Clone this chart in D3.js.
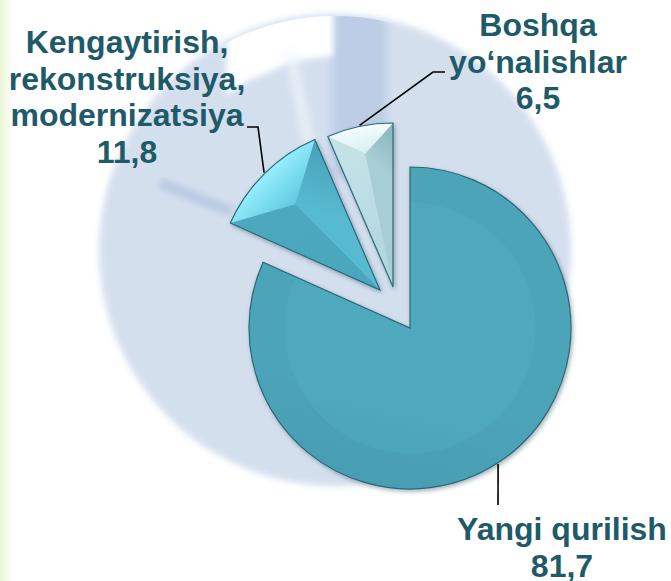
<!DOCTYPE html>
<html>
<head>
<meta charset="utf-8">
<script src="https://cdn.jsdelivr.net/npm/d3@7"></script>
<style>
  body { margin: 0; background: #fff; }
  svg { display: block; }
</style>
</head>
<body>
<svg id="chart" width="671" height="581"></svg>
<script>
// data
const categories = ["Yangi qurilish", "Kengaytirish, rekonstruksiya, modernizatsiya", "Boshqa yo‘nalishlar"];
const labelLines = [["Yangi qurilish"], ["Kengaytirish,", "rekonstruksiya,", "modernizatsiya"], ["Boshqa", "yo‘nalishlar"]];
const shares = [81.7, 11.8, 6.5];

const svg = d3.select("#chart");
const W = 671, H = 581;
const cx = 410, cy = 328;
const rBig = 161, rSmall = 164;

const fmt = d3.formatLocale({decimal: ",", thousands: " ", grouping: [3], currency: ["", ""]}).format(".1f");

const defs = svg.append("defs");

// left green strip
const gStrip = defs.append("linearGradient").attr("id", "strip");
gStrip.append("stop").attr("offset", 0).attr("stop-color", "#e9f5d4");
gStrip.append("stop").attr("offset", 1).attr("stop-color", "#ffffff");
svg.append("rect").attr("x", 0).attr("y", 0).attr("width", 14).attr("height", H).attr("fill", "url(#strip)");

// blurred decorative circle behind the pie
defs.append("filter").attr("id", "blur3").attr("x", "-20%").attr("y", "-20%").attr("width", "140%").attr("height", "140%")
  .append("feGaussianBlur").attr("stdDeviation", 3);
defs.append("filter").attr("id", "blur5").attr("x", "-50%").attr("y", "-50%").attr("width", "200%").attr("height", "200%")
  .append("feGaussianBlur").attr("stdDeviation", 5);
defs.append("clipPath").attr("id", "bgclip")
  .append("circle").attr("cx", 335).attr("cy", 250).attr("r", 234);

svg.append("circle").attr("cx", 335).attr("cy", 250).attr("r", 236)
  .attr("fill", "#d4dfee").attr("filter", "url(#blur3)");

const ghost = svg.append("g").attr("clip-path", "url(#bgclip)");
ghost.append("rect").attr("x", 332).attr("y", 8).attr("width", 54).attr("height", 170)
  .attr("fill", "#bccde5").attr("filter", "url(#blur5)");
ghost.append("path").attr("d", "M230,-10L333,-10L333,56L294,61L250,80L225,95Z")
  .attr("fill", "#ffffff").attr("filter", "url(#blur3)");
ghost.append("line").attr("x1", 290).attr("y1", 50).attr("x2", 316).attr("y2", 180)
  .attr("stroke", "#f2f6fb").attr("stroke-width", 9).attr("opacity", 0.85).attr("filter", "url(#blur5)");
ghost.append("line").attr("x1", 160).attr("y1", 183).attr("x2", 232).attr("y2", 212)
  .attr("stroke", "#b8c9e2").attr("stroke-width", 10).attr("filter", "url(#blur3)");

// pie
const pie = d3.pie().sort(null).startAngle(0).endAngle(2 * Math.PI);
const arcs = pie(shares);

// exploded slice offsets (layout)
const offsets = [[0, 0], [-30, -38], [-17, -41]];

defs.append("filter").attr("id", "shadow").attr("x", "-20%").attr("y", "-20%").attr("width", "140%").attr("height", "140%")
  .append("feDropShadow").attr("dx", 1.5).attr("dy", 2).attr("stdDeviation", 2)
  .attr("flood-color", "#1d4250").attr("flood-opacity", 0.4);

function lin(id, x1, y1, x2, y2, stops) {
  const g = defs.append("linearGradient").attr("id", id).attr("gradientUnits", "userSpaceOnUse")
    .attr("x1", x1).attr("y1", y1).attr("x2", x2).attr("y2", y2);
  stops.forEach(([o, c]) => g.append("stop").attr("offset", o).attr("stop-color", c));
}

const pt = (c, rad, a) => [c[0] + rad * Math.sin(a), c[1] - rad * Math.cos(a)];

// big slice
const big = arcs[0];
lin("bigFill", cx + 40, cy - rBig, cx - 30, cy + rBig, [[0, "#50a9be"], [0.5, "#489db2"], [1, "#3a8599"]]);
const bigG = svg.append("g").attr("transform", `translate(${cx},${cy})`).attr("filter", "url(#shadow)");
bigG.append("path")
  .attr("d", d3.arc().innerRadius(0).outerRadius(rBig)(big))
  .attr("fill", "url(#bigFill)").attr("stroke", "#2c6676").attr("stroke-width", 1.2);
svg.append("path").attr("transform", `translate(${cx},${cy})`)
  .attr("d", d3.arc().innerRadius(rBig * 0.78).outerRadius(rBig - 1)(big))
  .attr("fill", "#1c5566").attr("opacity", 0.06);

// small bevelled slices
const facetColors = [
  null,
  {outer: ["#96efff", "#62c9df"], start: ["#4ba8bf", "#4aa6bd"], end: ["#58bad0", "#46a0b8"], stroke: "#2b6a7a"},
  {outer: ["#f6fcfd", "#d6eef2"], start: ["#c3e2e8", "#aed4dc"], end: ["#a9cdd5", "#86b3bd"], stroke: "#2d6b79"}
];

arcs.forEach((d, i) => {
  if (i === 0) return;
  const c = [cx + offsets[i][0], cy + offsets[i][1]];
  const a0 = d.startAngle, a1 = d.endAngle;
  const half = (a1 - a0) / 2, mid = (a0 + a1) / 2;
  const dist = rSmall / (1 + Math.sin(half));
  const inner = pt(c, dist, mid);
  const so = pt(c, rSmall, a0), eo = pt(c, rSmall, a1);
  const am = pt(c, rSmall, mid);
  const col = facetColors[i];

  lin(`outer${i}`, am[0], am[1], inner[0], inner[1], [[0, col.outer[0]], [1, col.outer[1]]]);
  lin(`start${i}`, inner[0], inner[1], c[0], c[1], [[0, col.start[0]], [1, col.start[1]]]);
  lin(`end${i}`, inner[0], inner[1], eo[0], eo[1], [[0, col.end[0]], [1, col.end[1]]]);

  const g = svg.append("g").attr("filter", "url(#shadow)");
  g.append("path")
    .attr("d", d3.arc().innerRadius(0).outerRadius(rSmall)(d))
    .attr("transform", `translate(${c[0]},${c[1]})`)
    .attr("fill", col.start[1]);
  g.append("path").attr("d", `M${c}L${so}L${inner}Z`).attr("fill", `url(#start${i})`);
  g.append("path").attr("d", `M${c}L${eo}L${inner}Z`).attr("fill", `url(#end${i})`);
  g.append("path").attr("d", `M${inner}L${so}A${rSmall},${rSmall} 0 0 1 ${eo}Z`).attr("fill", `url(#outer${i})`);
  g.append("path")
    .attr("d", d3.arc().innerRadius(0).outerRadius(rSmall)(d))
    .attr("transform", `translate(${c[0]},${c[1]})`)
    .attr("fill", "none").attr("stroke", col.stroke).attr("stroke-width", 1.2);
});

// labels with leader lines (layout: label centre, first baseline, elbow)
const labelLayout = [
  {x: 562, y: 540, elbow: [[498, 505]]},
  {x: 127, y: 53, elbow: [[258, 127], [247, 127]]},
  {x: 538, y: 36, elbow: [[433, 72], [445, 72]]}
];
const lineH = 36.5;

arcs.forEach((d, i) => {
  const c = [cx + offsets[i][0], cy + offsets[i][1]];
  const R = i === 0 ? rBig : rSmall;
  const start = pt(c, R + 1, (d.startAngle + d.endAngle) / 2);
  const L = labelLayout[i];
  svg.append("path")
    .attr("d", d3.line()([start, ...L.elbow]))
    .attr("fill", "none").attr("stroke", "#000").attr("stroke-width", 1.6);

  const t = svg.append("text")
    .attr("text-anchor", "middle")
    .attr("font-family", "Arial, 'Liberation Sans', sans-serif")
    .attr("font-weight", "bold").attr("font-size", 32)
    .attr("fill", "#1f5a6a");
  const lines = labelLines[i].concat([fmt(shares[i])]);
  lines.forEach((s, k) => {
    t.append("tspan").attr("x", L.x).attr("y", L.y + k * lineH).text(s);
  });
});
</script>
</body>
</html>
